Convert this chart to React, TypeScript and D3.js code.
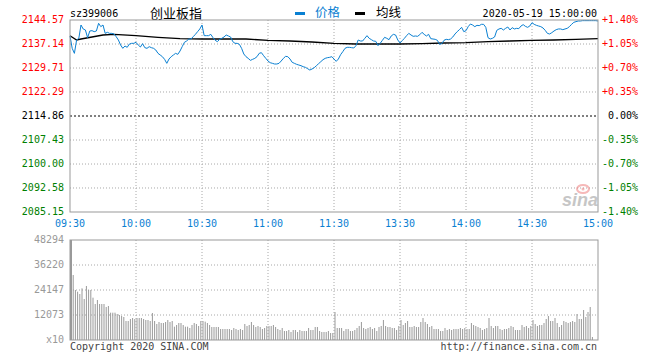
import React from 'react';
import * as d3 from 'd3';

// 创业板指 intraday, 2020-05-19 (one value per minute, 09:30 -> 15:00)
const prices = [
  2139.62, 2135.8, 2134.25, 2138.38, 2138.9, 2143.02, 2141.79, 2141.48, 2139.1, 2141.17,
  2141.27, 2140.96, 2141.17, 2143.54, 2142.51, 2143.02, 2140.44, 2140.75, 2140.44, 2140.44,
  2140.24, 2139.41, 2138.38, 2136.83, 2135.8, 2136.52, 2136.11, 2137.14, 2137.35, 2137.35,
  2137.66, 2136.83, 2136.21, 2137.25, 2136.01, 2135.8, 2136.32, 2136.01, 2135.8, 2135.28,
  2134.25, 2133.74, 2133.22, 2132.39, 2131.16, 2132.5, 2133.22, 2133.74, 2134.25, 2133.94,
  2134.97, 2136.32, 2137.66, 2138.07, 2138.69, 2138.69, 2139.41, 2140.13, 2140.96, 2141.79,
  2143.02, 2139.72, 2139.72, 2139.72, 2140.13, 2139.1, 2138.28, 2137.86, 2138.59, 2138.9,
  2139.31, 2139.93, 2139.62, 2139.31, 2137.86, 2137.35, 2137.35, 2137.04, 2135.8, 2134.05,
  2133.22, 2132.7, 2132.08, 2132.39, 2132.7, 2133.22, 2134.25, 2134.46, 2133.53, 2132.7,
  2131.88, 2131.36, 2131.16, 2130.95, 2130.95, 2131.16, 2131.88, 2132.7, 2133.32, 2133.22,
  2132.5, 2131.47, 2131.16, 2130.85, 2130.64, 2130.43, 2130.12, 2129.92, 2129.51, 2129.09,
  2129.4, 2129.81, 2130.43, 2131.05, 2131.67, 2132.29, 2132.7, 2132.91, 2133.01, 2133.22,
  2132.5, 2131.77, 2132.5, 2133.84, 2134.77, 2135.8, 2136.11, 2136.11, 2136.01, 2135.9,
  2136.63, 2138.38, 2138.07, 2138.07, 2138.9, 2139.72, 2138.9, 2138.48, 2138.07, 2137.97,
  2136.63, 2137.35, 2138.28, 2139.21, 2138.9, 2138.48, 2139.62, 2140.13, 2139.93, 2138.38,
  2137.45, 2138.17, 2138.9, 2139.72, 2140.44, 2139.93, 2139.52, 2139.62, 2139.52, 2140.03,
  2140.75, 2140.13, 2139.62, 2140.13, 2138.79, 2138.69, 2138.59, 2138.28, 2137.04, 2137.25,
  2138.28, 2138.59, 2138.48, 2138.69, 2139.31, 2140.24, 2140.96, 2141.58, 2142.3, 2140.96,
  2141.27, 2142.51, 2143.33, 2143.02, 2142.51, 2142.92, 2142.82, 2143.23, 2143.23, 2142.3,
  2139.1, 2138.69, 2138.9, 2139.31, 2141.37, 2141.79, 2141.99, 2141.48, 2141.99, 2142.4,
  2141.48, 2142.2, 2141.79, 2141.99, 2141.89, 2142.71, 2143.13, 2142.61, 2142.3, 2142.71,
  2143.75, 2143.23, 2142.92, 2142.71, 2142.51, 2142.1, 2141.37, 2140.44, 2140.24, 2140.65,
  2141.17, 2141.58, 2141.79, 2141.79, 2141.58, 2141.79, 2141.99, 2142.51, 2143.23, 2143.85,
  2144.06, 2144.26, 2144.26, 2144.37, 2144.37, 2144.37, 2144.37, 2144.37, 2144.37, 2144.37,
  2144.26,
];

// average price line (minute, value)
const avgMinutes = [0, 3, 5, 10, 15, 20, 30, 40, 50, 60, 70, 80, 90, 100, 110, 120, 130, 140, 150, 160, 170, 180, 190, 200, 210, 220, 230, 240];
const avgValues = [
  2139.72, 2138.38, 2138.69, 2139.31, 2139.93, 2140.13, 2139.72, 2139.21, 2138.79, 2138.69,
  2138.69, 2138.69, 2138.28, 2138.07, 2137.76, 2137.35, 2137.14, 2137.14, 2137.14, 2137.25,
  2137.45, 2137.55, 2137.86, 2138.07, 2138.28, 2138.38, 2138.59, 2138.79,
];

// volume (x10), index 0 is the opening auction
const volumes = [
  48294,
  31390, 24147, 23342, 22215, 24952, 19800, 26079, 24147, 24147, 20444,
  17386, 19318, 17386, 17386, 17386, 15937, 16420, 13200, 13200, 13200,
  12556, 12074, 11590, 11108, 9176, 9176, 10142, 10625, 10142, 10625,
  10625, 10625, 10142, 9659, 9659, 9176, 13039, 9176, 7727, 8693,
  8210, 8210, 8693, 9659, 8693, 9176, 6439, 7244, 8210, 8210,
  7244, 6439, 6439, 5795, 7244, 8210, 7727, 6761, 9176, 9176,
  8854, 8210, 7244, 6278, 6278, 6278, 6278, 5312, 5312, 5312,
  5312, 5312, 4829, 5795, 5312, 4829, 5312, 4829, 7727, 6761,
  7244, 8693, 7244, 6278, 6761, 6278, 5312, 5795, 6761, 6761,
  6761, 7244, 6278, 5312, 4829, 5795, 4346, 4346, 4829, 3864,
  4829, 4829, 3864, 4829, 4346, 4346, 4346, 5795, 4829, 4829,
  6278, 6278, 4346, 3864, 3864, 3864, 4346, 3381, 3381, 13522,
  5796, 5796, 5796, 4347, 5313, 5313, 4347, 4347, 4830, 5796,
  6762, 8694, 5796, 5313, 5796, 6279, 5313, 5796, 4347, 6279,
  6762, 9660, 6762, 6279, 6279, 5796, 5796, 4830, 6762, 9660,
  7245, 8211, 9177, 6279, 6279, 6762, 6279, 6279, 8694, 10626,
  8694, 7728, 6279, 6762, 5313, 5313, 5313, 4347, 4347, 5796,
  4830, 5313, 4830, 5313, 5313, 5313, 5796, 5313, 5796, 5313,
  5313, 8211, 7245, 6762, 6279, 5796, 4830, 5313, 5796, 10626,
  6762, 5796, 6762, 6762, 5313, 4830, 5313, 5313, 5796, 6762,
  6279, 4830, 4830, 4830, 7245, 6279, 6762, 5796, 6762, 9660,
  7728, 6762, 7245, 7245, 8211, 10143, 11592, 9177, 9177, 10626,
  8211, 6279, 7245, 9177, 8694, 8211, 8694, 9177, 8694, 12558,
  10143, 10143, 14490, 11109, 13524, 15939, 1449, 0, 0, 0,
];

const preClose = 2114.86;
const priceTicks = [2144.57, 2137.14, 2129.71, 2122.29, 2114.86, 2107.43, 2100.0, 2092.58, 2085.15];
const pctTicks = ['+1.40%', '+1.05%', '+0.70%', '+0.35%', '0.00%', '-0.35%', '-0.70%', '-1.05%', '-1.40%'];
const volTicks = [48294, 36220, 24147, 12073];
const timeTicks = [0, 30, 60, 90, 120, 150, 180, 210, 240];
const timeLabels = ['09:30', '10:00', '10:30', '11:00', '11:30', '13:30', '14:00', '14:30', '15:00'];

const mono = '"DejaVu Sans Mono", monospace';
const cjk = '"Noto Sans CJK SC", sans-serif';
const blue = '#0a80d2';
const grid = '#a8a8a8';
const frame = '#999';

const left = 70, right = 598;
const pTop = 20, pBottom = 212;
const vTop = 240, vBottom = 340;

export default function App() {
  const x = d3.scaleLinear().domain([0, 240]).range([left, right]);
  const y = d3.scaleLinear().domain([priceTicks[8], priceTicks[0]]).range([pBottom, pTop]);
  const yv = d3.scaleLinear().domain([0, volTicks[0]]).range([vBottom, vTop]);

  const priceLine = d3.line<number>().x((d, i) => x(i)).y(d => y(d));
  const avgLine = d3.line<number>().x((d, i) => x(avgMinutes[i])).y(d => y(d));

  const labelColor = (v: number) => (v > preClose + 0.001 ? '#ff0000' : v < preClose - 0.001 ? '#008000' : '#000');

  return (
    <svg width={660} height={360} style={{ position: 'absolute', left: 0, top: 0, background: '#fff' }}>
      {/* header */}
      <text x={70} y={14} fontFamily={mono} fontSize={10} dominantBaseline="middle">sz399006</text>
      <text x={150} y={14} fontFamily={cjk} fontSize={13} dominantBaseline="middle">创业板指</text>
      <rect x={295} y={12} width={10} height={3} fill={blue} />
      <text x={315} y={14} fontFamily={cjk} fontSize={12.5} fill={blue} dominantBaseline="middle">价格</text>
      <rect x={355} y={12} width={10} height={3} fill="#000" />
      <text x={376} y={14} fontFamily={cjk} fontSize={12.5} fill="#000" dominantBaseline="middle">均线</text>
      <text x={597} y={14} fontFamily={mono} fontSize={10} textAnchor="end" dominantBaseline="middle">2020-05-19 15:00:00</text>

      {/* price panel grid */}
      {priceTicks.map((t, i) => (
        <g key={'p' + i}>
          {i > 0 && i < 8 && (
            <line x1={left} x2={right} y1={y(t)} y2={y(t)}
              stroke={i === 4 ? '#000' : grid} strokeDasharray={i === 4 ? '2,2' : '1,2'} />
          )}
          <text x={64} y={y(t)} fontFamily={mono} fontSize={10} textAnchor="end" dominantBaseline="middle" fill={labelColor(t)}>
            {t.toFixed(2)}
          </text>
          <text x={638} y={y(t)} fontFamily={mono} fontSize={10} textAnchor="end" dominantBaseline="middle" fill={labelColor(t)}>
            {pctTicks[i]}
          </text>
        </g>
      ))}
      {timeTicks.map((m, i) => (
        <g key={'t' + i}>
          {i > 0 && i < 8 && (
            <>
              <line x1={x(m)} x2={x(m)} y1={pTop} y2={pBottom} stroke={grid} strokeDasharray="1,2" />
              <line x1={x(m)} x2={x(m)} y1={vTop} y2={vBottom} stroke={grid} strokeDasharray="1,2" />
            </>
          )}
          <text x={x(m)} y={224} fontFamily={mono} fontSize={10} textAnchor="middle" dominantBaseline="middle" fill={blue}>
            {timeLabels[i]}
          </text>
        </g>
      ))}

      {/* watermark */}
      <g opacity={0.55}>
        <ellipse cx={583} cy={189} rx={6} ry={4} fill="none" stroke="#f08080" strokeWidth={2} />
        <circle cx={583} cy={189} r={1.5} fill="#f08080" />
        <text x={562} y={206} fontFamily="Arial, sans-serif" fontStyle="italic" fontWeight="bold" fontSize={18} fill="#999">sina</text>
      </g>

      <path d={avgLine(avgValues) || ''} fill="none" stroke="#000" strokeWidth={1.3} />
      <path d={priceLine(prices) || ''} fill="none" stroke={blue} strokeWidth={1} />

      <rect x={left} y={pTop} width={right - left} height={pBottom - pTop} fill="none" stroke={frame} />

      {/* volume panel */}
      {volTicks.map((t, i) => (
        <g key={'v' + i}>
          {i > 0 && <line x1={left} x2={right} y1={yv(t)} y2={yv(t)} stroke={grid} strokeDasharray="1,2" />}
          <text x={64} y={yv(t)} fontFamily={mono} fontSize={10} textAnchor="end" dominantBaseline="middle" fill="#999">{t}</text>
        </g>
      ))}
      <text x={64} y={vBottom} fontFamily={mono} fontSize={10} textAnchor="end" dominantBaseline="middle" fill="#999">x10</text>
      {volumes.map((v, i) => (
        v > 0 && (
          <rect key={'b' + i} x={i === 0 ? left : x(i) + 0.5} y={yv(v)} width={i === 0 ? 2 : 1} height={vBottom - yv(v)} fill="#999" />
        )
      ))}
      <rect x={left} y={vTop} width={right - left} height={vBottom - vTop} fill="none" stroke={frame} />

      <text x={70} y={347} fontFamily={mono} fontSize={10} dominantBaseline="middle" fill="#444">Copyright 2020 SINA.COM</text>
      <text x={597} y={347} fontFamily={mono} fontSize={10} textAnchor="end" dominantBaseline="middle" fill="#444">http://finance.sina.com.cn</text>
    </svg>
  );
}
